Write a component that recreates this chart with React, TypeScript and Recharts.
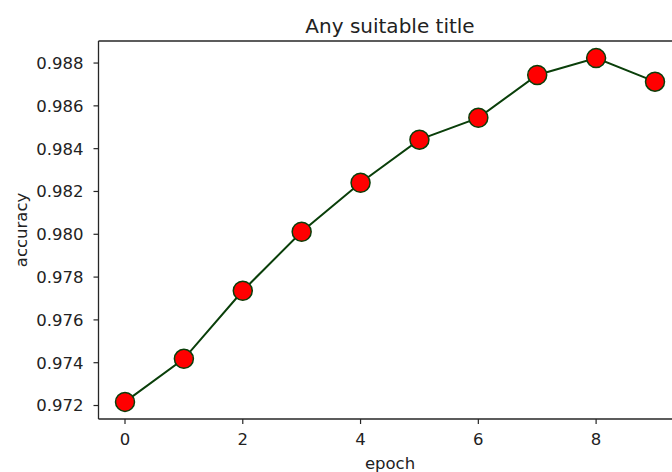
import { LineChart, Line, XAxis, YAxis, Label, ReferenceLine } from 'recharts';

const epochs = [0, 1, 2, 3, 4, 5, 6, 7, 8, 9];
const accuracy = [
  0.97217, 0.97418, 0.97736, 0.98012, 0.98241, 0.98442, 0.98544, 0.98744,
  0.98823, 0.98713,
];
const xTicks = [0, 2, 4, 6, 8];
const yTicks = [0.972, 0.974, 0.976, 0.978, 0.98, 0.982, 0.984, 0.986, 0.988];

const FONT = '"DejaVu Sans", sans-serif';
const AXIS = '#262626';
const LINE = '#0a3f0a';
const Y_MIN = 0.97137;
const Y_MAX = 0.98903;

const data = epochs.map((e, i) => ({ epoch: e, acc: accuracy[i] }));

const renderYLabel = () => (
  <text
    x={27}
    y={230}
    transform="rotate(-90, 27, 230)"
    textAnchor="middle"
    fontFamily={FONT}
    fontSize={16.5}
    fill="#222"
  >
    accuracy
  </text>
);

export default function App() {
  return (
    <div
      style={{
        position: 'fixed',
        left: 0,
        top: 0,
        width: 672,
        height: 472,
        overflow: 'hidden',
        background: '#fff',
      }}
    >
      <LineChart
        width={700}
        height={472}
        data={data}
        margin={{ top: 41, right: 18.5, bottom: 0, left: 0 }}
      >
        <XAxis
          dataKey="epoch"
          type="number"
          domain={[-0.45, 9.45]}
          ticks={xTicks}
          allowDataOverflow
          height={53}
          tickSize={5}
          tickMargin={9}
          axisLine={{ stroke: AXIS, strokeWidth: 1.3 }}
          tickLine={{ stroke: AXIS, strokeWidth: 1.2 }}
          tick={{ fontFamily: FONT, fontSize: 16.5, fill: '#222' }}
        >
          <Label
            value="epoch"
            position="insideBottom"
            offset={3}
            fontFamily={FONT}
            fontSize={16.5}
            fill="#222"
          />
        </XAxis>
        <YAxis
          type="number"
          domain={[Y_MIN, Y_MAX]}
          ticks={yTicks}
          allowDataOverflow
          width={98.5}
          tickSize={5}
          tickMargin={10}
          tickFormatter={(v: number) => v.toFixed(3)}
          axisLine={{ stroke: AXIS, strokeWidth: 1.3 }}
          tickLine={{ stroke: AXIS, strokeWidth: 1.2 }}
          tick={{ fontFamily: FONT, fontSize: 16.5, fill: '#222' }}
        >
          <Label content={renderYLabel} />
        </YAxis>
        <ReferenceLine
          y={Y_MAX}
          stroke={AXIS}
          strokeWidth={1.3}
          ifOverflow="visible"
          label={{
            value: 'Any suitable title',
            position: 'top',
            offset: 8,
            fontFamily: FONT,
            fontSize: 20,
            fill: '#222',
          }}
        />
        <Line
          dataKey="acc"
          stroke={LINE}
          strokeWidth={2}
          dot={{ r: 9.5, fill: '#ff0000', stroke: LINE, strokeWidth: 1.5 }}
          activeDot={false}
          isAnimationActive={false}
        />
      </LineChart>
    </div>
  );
}
